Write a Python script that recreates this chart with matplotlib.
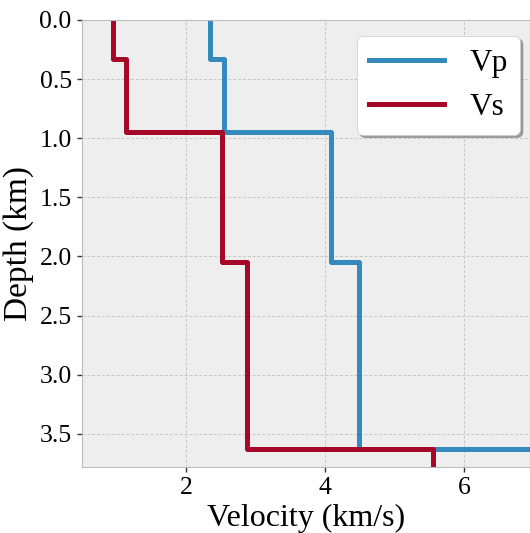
import matplotlib
matplotlib.use('Agg')
import matplotlib.pyplot as plt

# layer tops (km) and velocities (km/s)
depth_top = [0.0, 0.33, 0.95, 2.05, 3.63]
vp = [2.34, 2.54, 4.09, 4.49, 7.20]
vs = [0.95, 1.13, 2.52, 2.87, 5.55]
max_depth = 3.80

plt.style.use('bmh')
plt.rcParams['font.family'] = ['Liberation Serif', 'DejaVu Serif']


def profile(v):
    # build the staircase: each layer is a vertical segment
    xs, ys = [], []
    bottoms = depth_top[1:] + [max_depth]
    for top, bot, val in zip(depth_top, bottoms, v):
        xs += [val, val]
        ys += [top, bot]
    return xs, ys


fig = plt.figure(figsize=(5.30, 5.33), dpi=100)
ax = fig.add_axes([0.155, 0.124, 0.845, 0.8385])

x, y = profile(vp)
ax.plot(x, y, color='#348ABD', linewidth=3.6, label='Vp')
x, y = profile(vs)
ax.plot(x, y, color='#A60628', linewidth=3.6, label='Vs')

ax.set_xlim(0.5, 6.95)
ax.set_ylim(3.78, 0.0)
ax.set_xticks([2, 4, 6])
ax.set_yticks([0.0, 0.5, 1.0, 1.5, 2.0, 2.5, 3.0, 3.5])
ax.tick_params(labelsize=18.5, direction='out', length=3.5, width=1,
               color='#333333', pad=4, top=False, right=False)
ax.grid(True, color='#c6c6c6', linestyle=(0, (3, 2)), linewidth=0.7)
ax.set_xlabel('Velocity (km/s)', fontsize=23, labelpad=3)
ax.set_ylabel('Depth (km)', fontsize=24, labelpad=4)

ax.legend(loc='upper right', bbox_to_anchor=(0.978, 0.964), borderaxespad=0.,
          fontsize=22.5, shadow=True, fancybox=True, facecolor='white',
          handlelength=2.4, framealpha=1.0)

plt.savefig('out.png', dpi=100)
